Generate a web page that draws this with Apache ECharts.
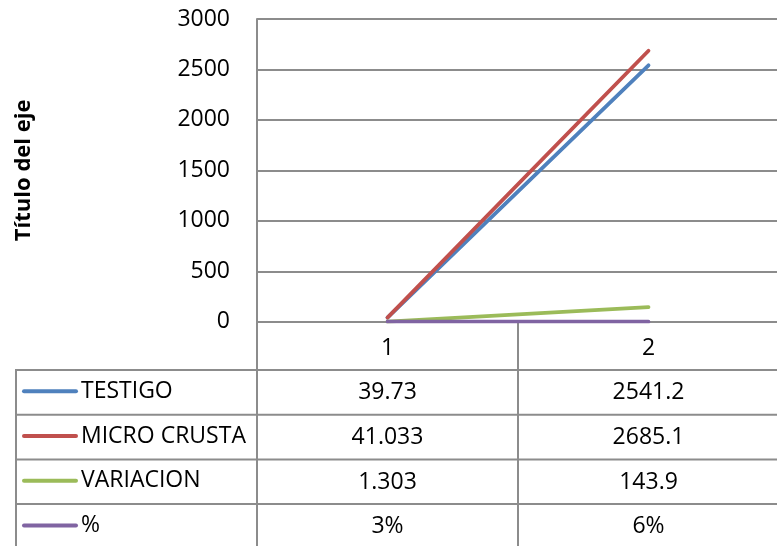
<!DOCTYPE html>
<html>
<head>
<meta charset="utf-8">
<script src="https://cdn.jsdelivr.net/npm/echarts@6/dist/echarts.min.js"></script>
<style>html,body{margin:0;padding:0;background:#fff}#c{width:777px;height:546px}</style>
</head>
<body>
<div id="c"></div>
<script>
var categories = ['1', '2'];
var seriesNames = ['TESTIGO', 'MICRO CRUSTA', 'VARIACION', '%'];
var testigo = [39.73, 2541.2];
var microCrusta = [41.033, 2685.1];
var variacion = [1.303, 143.9];
var porcentaje = [0.03, 0.06];
var yTicks = { min: 0, max: 3000, interval: 500 };
var axisTitle = 'Título del eje';

var colors = ['#4F81BD', '#C0504D', '#9BBB59', '#8064A2'];
var allData = [testigo, microCrusta, variacion, porcentaje];
function fmt(si, v) { return si === 3 ? Math.round(v * 100) + '%' : String(v); }

var FONT = 'Open Sans';
var FS = 23;
var gridColor = '#8c8c8c';
var LW = 2;
var ROW = 44.7;
var rowTops = [370, 370 + ROW, 370 + 2 * ROW, 370 + 3 * ROW];

var chart = echarts.init(document.getElementById('c'), null, { renderer: 'canvas' });

var graphics = [];
rowTops.forEach(function (y) {
  graphics.push({ type: 'line', shape: { x1: 16, y1: y, x2: 777, y2: y }, style: { stroke: gridColor, lineWidth: LW }, z: 1 });
});
graphics.push({ type: 'line', shape: { x1: 16, y1: 369, x2: 16, y2: 546 }, style: { stroke: gridColor, lineWidth: LW }, z: 1 });
seriesNames.forEach(function (n, i) {
  var cy = rowTops[i] + ROW / 2 - 1;
  graphics.push({ type: 'line', shape: { x1: 24, y1: cy, x2: 76, y2: cy }, style: { stroke: colors[i], lineWidth: 4, lineCap: 'round' }, z: 2 });
  graphics.push({ type: 'text', x: 81, y: cy, style: { text: n, fontFamily: FONT, fontSize: FS, fill: '#000', verticalAlign: 'middle', align: 'left' }, z: 2 });
});

var option = {
  animation: false,
  color: colors,
  textStyle: { fontFamily: FONT },
  grid: { left: 257, top: 19, right: -2, bottom: 224.3, containLabel: false, outerBoundsMode: 'none' },
  xAxis: {
    type: 'category', data: categories, boundaryGap: true,
    axisLine: { show: true, lineStyle: { color: gridColor, width: LW } },
    axisTick: { show: true, length: 226, lineStyle: { color: gridColor, width: LW } },
    axisLabel: {
      margin: 4, fontFamily: FONT, fontSize: FS, color: '#000', lineHeight: ROW,
      formatter: function (v, idx) {
        var lines = [v];
        allData.forEach(function (arr, si) { lines.push(fmt(si, arr[idx])); });
        return lines.join('\n');
      }
    }
  },
  yAxis: {
    type: 'value', min: yTicks.min, max: yTicks.max, interval: yTicks.interval,
    name: axisTitle, nameLocation: 'middle', nameRotate: 90, nameGap: 222,
    nameTextStyle: { fontFamily: FONT, fontSize: 22, fontWeight: 'bold', color: '#000' },
    axisLine: { show: true, lineStyle: { color: gridColor, width: LW } },
    axisTick: { show: false },
    axisLabel: { margin: 27, fontFamily: FONT, fontSize: FS, color: '#000', formatter: function (v) { return String(v); } },
    splitLine: { show: true, lineStyle: { color: gridColor, width: LW } }
  },
  series: seriesNames.map(function (n, i) {
    return {
      name: n, type: 'line', data: allData[i], showSymbol: false, symbol: 'none',
      lineStyle: { width: 3.8, color: colors[i], cap: 'round' }, itemStyle: { color: colors[i] }, z: 3 + i
    };
  }),
  graphic: graphics
};
chart.setOption(option);
</script>
</body>
</html>
